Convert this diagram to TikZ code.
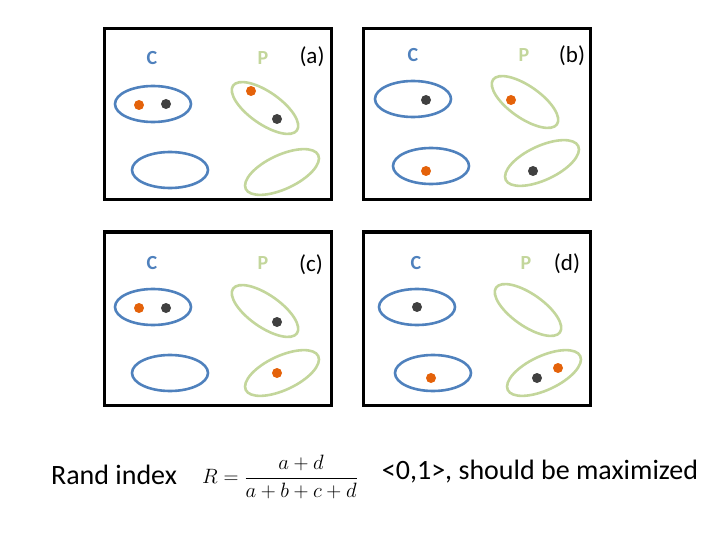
\documentclass[tikz,border=0pt]{standalone}
\usepackage{amsmath}
\usepackage{fontspec}
\setmainfont{Carlito}
\usepackage{tikz}
\definecolor{cblue}{RGB}{79,129,189}
\definecolor{pgreen}{RGB}{195,214,155}
\definecolor{dorange}{RGB}{228,98,10}
\definecolor{dgray}{RGB}{64,64,64}
\begin{document}
\begin{tikzpicture}[x=1pt, y=-1pt, every node/.style={font=\fontsize{23}{27}\selectfont}]
\tikzstyle{panel}=[draw=black, line width=3pt]
\tikzstyle{cring}=[draw=cblue, line width=2.6pt]
\tikzstyle{pring}=[draw=pgreen, line width=2.6pt]
\tikzstyle{odot}=[fill=dorange]
\tikzstyle{kdot}=[fill=dgray]
\tikzstyle{clab}=[text=cblue, font=\fontsize{20}{24}\selectfont\bfseries]
\tikzstyle{plab}=[text=pgreen, font=\fontsize{20}{24}\selectfont\bfseries]
\tikzstyle{big}=[font=\fontsize{28}{32}\selectfont]
\useasboundingbox (0,0) rectangle (720,540);

\draw[panel] (104,29) rectangle (331,200);
\node[clab] (ca) at (152,58) {C};
\node[plab] (pa) at (263,58) {P};
\node (la) at (312,57) {(a)};
\draw[cring] (153,104) ellipse (38 and 18);
\draw[cring] (170,170) ellipse (38 and 18);
\draw[pring, rotate around={-35:(265,108)}] (265,108) ellipse (39 and 16);
\draw[pring, rotate around={25:(282,172)}] (282,172) ellipse (40 and 17);
\fill[odot] (139,105) circle (5);
\fill[kdot] (166,104) circle (5);
\fill[odot] (251,91) circle (5);
\fill[kdot] (277,119) circle (5);

\draw[panel] (363,29) rectangle (590,200);
\node[clab] (cb) at (413,55) {C};
\node[plab] (pb) at (524,55) {P};
\node (lb) at (572,56) {(b)};
\draw[cring] (413,99) ellipse (38 and 18);
\draw[cring] (431,166) ellipse (38 and 18);
\draw[pring, rotate around={-35:(525,102)}] (525,102) ellipse (39 and 16);
\draw[pring, rotate around={25:(542,163)}] (542,163) ellipse (40 and 17);
\fill[kdot] (426,100) circle (5);
\fill[odot] (426,171) circle (5);
\fill[odot] (511,100) circle (5);
\fill[kdot] (533,171) circle (5);

\draw[panel] (104,232) rectangle (331,405);
\node[clab] (cc) at (152,263) {C};
\node[plab] (pc) at (263,263) {P};
\node (lc) at (311,265) {(c)};
\draw[cring] (153,307) ellipse (38 and 18);
\draw[cring] (170,373) ellipse (38 and 18);
\draw[pring, rotate around={-35:(265,311)}] (265,311) ellipse (39 and 16);
\draw[pring, rotate around={25:(282,373)}] (282,373) ellipse (40 and 17);
\fill[odot] (139,308) circle (5);
\fill[kdot] (166,308) circle (5);
\fill[kdot] (277,322) circle (5);
\fill[odot] (277,373) circle (5);

\draw[panel] (363,232) rectangle (590,405);
\node[clab] (cd) at (416,263) {C};
\node[plab] (pd) at (526,263) {P};
\node (ld) at (567,264) {(d)};
\draw[cring] (417,307) ellipse (38 and 18);
\draw[cring] (433,373) ellipse (38 and 18);
\draw[pring, rotate around={-35:(528,310)}] (528,310) ellipse (39 and 16);
\draw[pring, rotate around={25:(544,373)}] (544,373) ellipse (40 and 17);
\fill[kdot] (417,307) circle (5);
\fill[odot] (431,378) circle (5);
\fill[kdot] (537,378) circle (5);
\fill[odot] (558,368) circle (5);

\node[big] (rand) at (114,475) {Rand index};
\node[font=\fontsize{20}{24}\selectfont] (rform) at (280,477) {$R=\dfrac{a+d}{a+b+c+d}$};
\node[big] (range) at (540,472) {<0,1>, should be maximized};
\end{tikzpicture}
\end{document}
